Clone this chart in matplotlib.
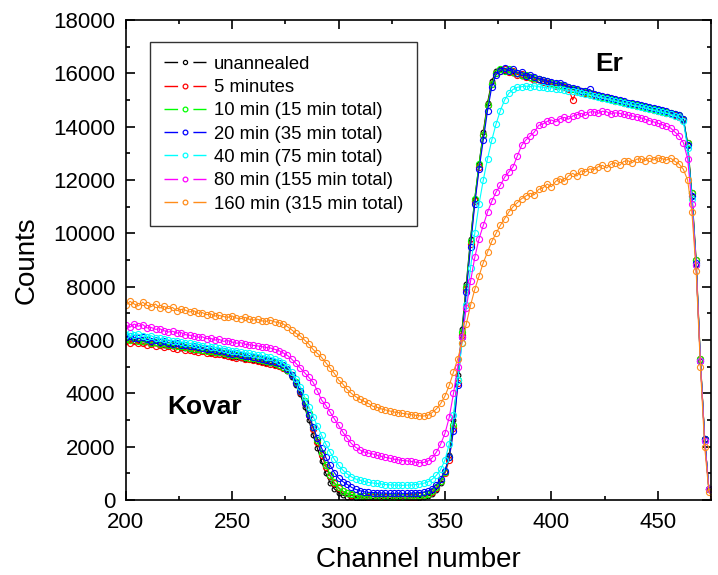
import numpy as np
import matplotlib.pyplot as plt
from matplotlib.lines import Line2D
from matplotlib.legend_handler import HandlerTuple
from matplotlib.ticker import MultipleLocator

plt.rcParams['font.family'] = ['Liberation Sans', 'DejaVu Sans']

# channel grid (every second channel)
channel = np.arange(200, 480, 2)

unannealed = [
    6000, 6040, 5970, 5990, 5930, 5950, 5880, 5900, 5850, 5820, 5800, 5760, 5770, 5710, 5700, 5660, 5640, 5610, 5580,
    5590, 5530, 5500, 5510, 5450, 5420, 5350, 5380, 5320, 5290, 5300, 5240, 5220, 5180, 5150, 5120, 5080, 5020, 4950,
    4820, 4620, 4320, 3960, 3500, 3000, 2450, 1950, 1450, 1000, 650, 420, 280, 180, 130, 100, 90, 80,
    70, 80, 60, 70, 60, 70, 60, 70, 60, 70, 70, 80, 80, 90, 110, 150, 230, 380,
    650, 1050, 1700, 3000, 4700, 6400, 8100, 9800, 11300, 12600, 13800, 14900, 15700, 16100, 16150,
    16080, 16120, 16000, 15980, 15900, 15950, 15820, 15800, 15760, 15700, 15680, 15600, 15560, 15520, 15480, 15450,
    15400, 15350, 15300, 15280, 15220, 15180, 15150, 15100, 15060, 15000, 15050, 14950, 14900, 14880, 14820, 14800,
    14750, 14720, 14680, 14640, 14600, 14560, 14520, 14480, 14450, 14400,
    14300, 13300, 11400, 8800, 5200, 2300, 400, 50, 0]

min5 = [
    5950, 5900, 5960, 5870, 5880, 5820, 5850, 5780, 5800, 5740, 5760, 5700, 5680, 5720, 5640, 5620, 5600, 5560, 5590,
    5510, 5500, 5460, 5480, 5420, 5400, 5380, 5330, 5360, 5290, 5270, 5250, 5200, 5190, 5140, 5100, 5080, 5030, 4960,
    4860, 4680, 4400, 4060, 3650, 3180, 2680, 2180, 1700, 1250, 900, 620, 440, 320, 250, 200, 170, 150,
    140, 130, 130, 120, 120, 110, 120, 110, 110, 120, 120, 130, 130, 150, 170, 210, 300, 450,
    700, 1000, 1500, 2700, 4400, 6200, 7900, 9600, 11200, 12500, 13700, 14800, 15600, 16000, 16100,
    16150, 16050, 16080, 15950, 15980, 15870, 15850, 15760, 15800, 15690, 15640, 15620, 15540, 15560, 15470, 15430,
    15000, 15380, 15320, 15250, 15260, 15170, 15140, 15080, 15100, 15020, 14960, 14980, 14900, 14860, 14850, 14780,
    14760, 14700, 14690, 14620, 14600, 14550, 14530, 14470, 14440, 14380,
    14250, 13400, 11500, 9000, 5300, 2300, 400, 50, 0]

min15 = [
    6050, 6000, 6070, 5980, 5960, 5990, 5900, 5920, 5860, 5870, 5820, 5800, 5760, 5780, 5720, 5700, 5660, 5680, 5620,
    5600, 5590, 5540, 5560, 5500, 5470, 5450, 5420, 5400, 5380, 5330, 5320, 5280, 5250, 5200, 5180, 5150, 5080, 5000,
    4880, 4700, 4430, 4100, 3700, 3250, 2750, 2250, 1780, 1330, 950, 660, 470, 340, 260, 210, 180, 160,
    150, 150, 140, 140, 130, 140, 130, 130, 140, 130, 140, 150, 150, 170, 190, 240, 330, 480,
    720, 1050, 1600, 2800, 4500, 6300, 8000, 9700, 11300, 12600, 13700, 14800, 15600, 16000, 16150,
    16100, 16150, 16050, 16020, 15950, 15920, 15880, 15830, 15780, 15740, 15700, 15640, 15600, 15560, 15510, 15470,
    15420, 15380, 15330, 15300, 15250, 15210, 15160, 15120, 15080, 15050, 15000, 14960, 14930, 14880, 14850, 14800,
    14780, 14730, 14700, 14650, 14620, 14580, 14540, 14500, 14460, 14420,
    14300, 13400, 11500, 9000, 5300, 2300, 400, 50, 0]

min35 = [
    6100, 6150, 6080, 6060, 6100, 6020, 5980, 6000, 5930, 5950, 5880, 5860, 5890, 5810, 5800, 5760, 5780, 5720, 5700,
    5680, 5650, 5620, 5600, 5580, 5520, 5480, 5500, 5440, 5410, 5400, 5360, 5320, 5300, 5250, 5220, 5180, 5120, 5050,
    4920, 4700, 4400, 4070, 3650, 3200, 2750, 2320, 1950, 1600, 1300, 1030, 820, 690, 590, 480, 400, 350,
    310, 290, 280, 270, 260, 260, 250, 250, 260, 250, 250, 260, 270, 280, 300, 340, 420, 580,
    800, 1100, 1600, 2600, 4300, 6100, 7800, 9500, 11100, 12400, 13500, 14600, 15500, 15950, 16100,
    16200, 16100, 16150, 16000, 16050, 15900, 15950, 15850, 15800, 15760, 15700, 15680, 15620, 15650, 15550, 15500,
    15450, 15420, 15350, 15320, 15400, 15220, 15200, 15150, 15100, 15080, 15030, 15000, 14960, 14900, 14880, 14850,
    14800, 14780, 14720, 14700, 14660, 14620, 14580, 14520, 14480, 14440,
    14300, 13300, 11400, 8900, 5200, 2300, 400, 50, 0]

min75 = [
    6200, 6250, 6180, 6220, 6150, 6130, 6160, 6080, 6060, 6020, 6000, 5980, 5950, 5920, 5900, 5870, 5850, 5830, 5780,
    5800, 5740, 5720, 5700, 5680, 5640, 5600, 5600, 5560, 5520, 5500, 5480, 5450, 5420, 5380, 5350, 5300, 5230, 5150,
    5000, 4800, 4550, 4250, 3880, 3500, 3130, 2780, 2430, 2100, 1800, 1530, 1300, 1120, 980, 870, 790, 740,
    700, 660, 640, 620, 600, 580, 570, 560, 560, 550, 560, 560, 580, 600, 630, 680, 780, 930,
    1150, 1500, 2100, 3200, 4500, 5900, 7300, 8700, 10000, 11100, 12000, 12800, 13500, 14100, 14600,
    15000, 15250, 15400, 15480, 15500, 15520, 15500, 15530, 15500, 15480, 15450, 15460, 15420, 15400, 15380, 15350,
    15320, 15300, 15260, 15240, 15200, 15160, 15120, 15080, 15050, 15000, 14960, 14920, 14880, 14850, 14800, 14780,
    14740, 14700, 14660, 14620, 14580, 14540, 14500, 14460, 14400, 14350,
    14200, 13200, 11300, 8800, 5200, 2200, 400, 50, 0]

min155 = [
    6550, 6480, 6600, 6520, 6580, 6450, 6470, 6400, 6420, 6350, 6300, 6330, 6260, 6280, 6200, 6180, 6150, 6100, 6120,
    6050, 6060, 6000, 6020, 5950, 5980, 5920, 5880, 5900, 5840, 5820, 5800, 5780, 5750, 5720, 5700, 5650, 5600, 5520,
    5420, 5280, 5120, 4950, 4780, 4600, 4420, 4100, 3750, 3550, 3300, 3050, 2800, 2550, 2320, 2120, 1980, 1880,
    1800, 1760, 1730, 1680, 1640, 1600, 1570, 1530, 1510, 1480, 1470, 1450, 1420, 1400, 1410, 1460, 1580, 1800,
    2100, 2500, 3100, 4000, 5000, 6100, 7200, 8200, 9100, 9800, 10300, 10800, 11200, 11550, 11800,
    12100, 12300, 12500, 12900, 13300, 13500, 13650, 13800, 14050, 14100, 14200, 14250, 14180, 14300, 14350, 14280,
    14400, 14450, 14500, 14420, 14550, 14560, 14500, 14580, 14560, 14480, 14520, 14500, 14460, 14430, 14400, 14380,
    14330, 14280, 14230, 14180, 14130, 14080, 14020, 13950, 13800, 13650,
    13400, 12800, 11100, 8800, 5200, 2200, 400, 50, 0]

min315 = [
    7300, 7450, 7350, 7280, 7420, 7300, 7250, 7350, 7200, 7260, 7180, 7220, 7100, 7150, 7120, 7050, 7100, 7000, 7030,
    6950, 6980, 6900, 6920, 6880, 6850, 6900, 6820, 6800, 6850, 6780, 6750, 6780, 6720, 6700, 6740, 6680, 6650, 6600,
    6500, 6380, 6250, 6150, 6000, 5850, 5650, 5500, 5350, 5150, 4950, 4750, 4500, 4350, 4150, 4000, 3880, 3780,
    3700, 3620, 3520, 3480, 3420, 3380, 3340, 3300, 3280, 3250, 3230, 3200, 3180, 3160, 3150, 3180, 3280, 3420,
    3620, 3900, 4300, 4800, 5300, 5900, 6600, 7300, 7900, 8400, 8900, 9300, 9700, 10000, 10300,
    10550, 10800, 11000, 11150, 11300, 11400, 11500, 11450, 11650, 11700, 11850, 11750, 11950, 12050, 11950, 12150,
    12250, 12150, 12350, 12300, 12420, 12380, 12500, 12550, 12450, 12600, 12650, 12550, 12700, 12720, 12650, 12780,
    12800, 12720, 12820, 12750, 12830, 12800, 12750, 12820, 12700, 12600,
    12400, 12000, 10800, 8600, 5000, 2000, 300, 50, 0]

labels = ["unannealed", "5 minutes", "10 min (15 min total)", "20 min (35 min total)",
          "40 min (75 min total)", "80 min (155 min total)", "160 min (315 min total)"]
series = [unannealed, min5, min15, min35, min75, min155, min315]
colors = ["black", "#ff0000", "#00ff00", "#0000ff", "#00ffff", "#ff00ff", "#ff8c1a"]

fig = plt.figure(figsize=(7.18, 5.75), dpi=100)
ax = fig.add_axes([0.1751, 0.1304, 0.8152, 0.8348])

leg_fs = 13.3
hlen = 2.3
klen = hlen * leg_fs          # key length in points
seg = 0.32 * klen             # each half of the broken key line
handles = []
for y, c, lab in zip(series, colors, labels):
    ms = 3.4 if c == "black" else 4.4
    ax.plot(channel, y, color=c, lw=0.8, marker="o", ms=ms, mfc="none", mec=c, mew=0.8)
    ln = Line2D([], [], color=c, lw=1.0, dashes=(seg, klen - 2 * seg, seg, 100))
    mk = Line2D([], [], ls="none", marker="o", ms=3.0 if c == "black" else 3.4, mfc="none", mec=c, mew=0.9)
    handles.append((ln, mk))

ax.set_xlim(200, 475)
ax.set_ylim(0, 18000)
ax.xaxis.set_major_locator(MultipleLocator(50))
ax.xaxis.set_minor_locator(MultipleLocator(25))
ax.yaxis.set_major_locator(MultipleLocator(2000))
ax.yaxis.set_minor_locator(MultipleLocator(1000))
ax.tick_params(which="both", direction="in", top=True, right=True, width=1.2, labelsize=16)
ax.tick_params(which="major", length=6.5)
ax.tick_params(which="minor", length=3)
ax.tick_params(axis="x", pad=8.5)
ax.tick_params(axis="y", pad=7.5)
for s in ax.spines.values():
    s.set_linewidth(1.2)

ax.set_xlabel("Channel number", fontsize=20, labelpad=10)
ax.set_ylabel("Counts", fontsize=20, labelpad=10)

ax.text(427, 16350, "Er", fontsize=19, fontweight="bold", ha="center", va="center")
ax.text(237, 3500, "Kovar", fontsize=19, fontweight="bold", ha="center", va="center")

leg = ax.legend(handles, labels, handler_map={tuple: HandlerTuple(ndivide=1, pad=0)},
                loc="upper left", bbox_to_anchor=(0.209, 0.927), bbox_transform=fig.transFigure,
                borderaxespad=0, fontsize=leg_fs, frameon=True, fancybox=False, edgecolor="black",
                handlelength=hlen, handletextpad=0.4, labelspacing=0.34, borderpad=0.75, numpoints=1)
leg.get_frame().set_linewidth(1.0)

fig.savefig("out.png", dpi=100)
